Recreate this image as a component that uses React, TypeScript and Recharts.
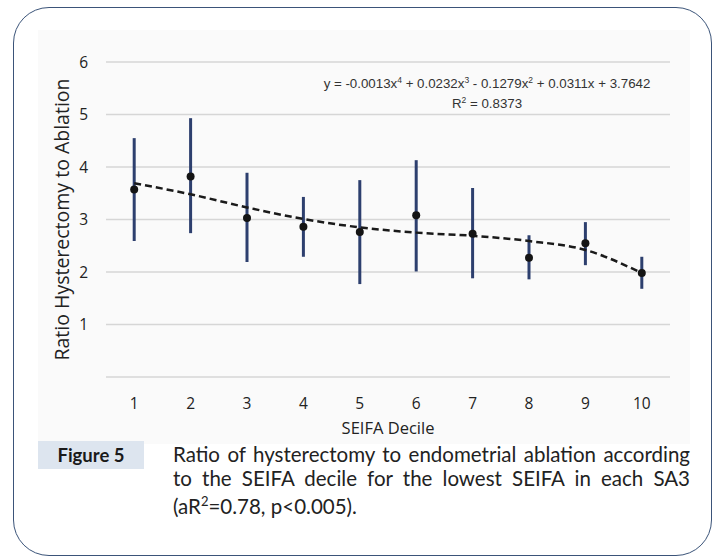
import React from 'react';
import { ComposedChart, Scatter, Line, XAxis, YAxis, CartesianGrid, ErrorBar } from 'recharts';

// SEIFA deciles on the x axis
const deciles = [1, 2, 3, 4, 5, 6, 7, 8, 9, 10];
// ratio hysterectomy : ablation
const ratioMean = [3.57, 3.82, 3.03, 2.86, 2.76, 3.08, 2.73, 2.27, 2.55, 1.98];
const ratioLower = [2.59, 2.74, 2.19, 2.29, 1.77, 2.01, 1.88, 1.86, 2.13, 1.68];
const ratioUpper = [4.55, 4.93, 3.89, 3.43, 3.75, 4.13, 3.6, 2.7, 2.95, 2.29];
// dashed polynomial trend line, as drawn
const trendValues = [3.69, 3.48, 3.23, 3.01, 2.85, 2.75, 2.69, 2.59, 2.42, 1.98];
const yTicks = [0, 1, 2, 3, 4, 5, 6];

const data = deciles.map((d, i) => ({
  decile: d,
  mean: ratioMean[i],
  err: [ratioMean[i] - ratioLower[i], ratioUpper[i] - ratioMean[i]],
  trend: trendValues[i],
}));

const chartFont = '"Open Sans", "DejaVu Sans", sans-serif';
const captionFont = 'Lato, "Open Sans", sans-serif';

const Dot = (props: any) => <circle cx={props.cx} cy={props.cy} r={4} fill="#141414" />;

export default function App() {
  return (
    <div style={{ position: 'absolute', left: 0, top: 0, width: 720, height: 560, background: '#fff', overflow: 'hidden' }}>
      <div
        style={{
          position: 'absolute',
          left: 13,
          top: 7,
          width: 699,
          height: 549,
          boxSizing: 'border-box',
          border: '1.5px solid #3b5479',
          borderRadius: 36,
        }}
      />
      <div style={{ position: 'absolute', left: 38, top: 30, width: 652, height: 414, background: '#fafafa' }} />

      <div style={{ position: 'absolute', left: 0, top: 0 }}>
        <ComposedChart width={720} height={450} data={data} margin={{ top: 62, right: 50, left: 18, bottom: 12 }}>
          <CartesianGrid vertical={false} stroke="#d6d6d6" strokeWidth={1.5} />
          <XAxis
            type="number"
            dataKey="decile"
            domain={[0.5, 10.5]}
            ticks={deciles}
            axisLine={false}
            tickLine={false}
            tickMargin={15}
            height={61}
            tick={{ fontSize: 15.5, fill: '#222', fontFamily: chartFont }}
            label={{ value: 'SEIFA Decile', position: 'insideBottom', offset: 4, fontSize: 16.5, fill: '#222', fontFamily: chartFont }}
          />
          <YAxis
            type="number"
            domain={[0, 6]}
            ticks={yTicks}
            axisLine={false}
            tickLine={false}
            width={88}
            tickMargin={12}
            tickFormatter={(v: number) => (v === 0 ? '' : String(v))}
            tick={{ fontSize: 15.5, fill: '#222', fontFamily: chartFont }}
            label={{
              value: 'Ratio Hysterectomy to Ablation',
              angle: -90,
              position: 'center',
              fontSize: 19.5,
              fill: '#222',
              fontFamily: chartFont,
            }}
          />
          <Scatter dataKey="mean" shape={<Dot />} isAnimationActive={false}>
            <ErrorBar dataKey="err" direction="y" width={0} stroke="#2d3f6e" strokeWidth={3} isAnimationActive={false} />
          </Scatter>
          <Line
            type="monotone"
            dataKey="trend"
            stroke="#1a1a1a"
            strokeWidth={2.5}
            strokeDasharray="7 4"
            dot={false}
            activeDot={false}
            isAnimationActive={false}
          />
        </ComposedChart>
      </div>

      <div
        style={{
          position: 'absolute',
          left: 287,
          top: 72,
          width: 400,
          textAlign: 'center',
          fontFamily: '"Liberation Sans", Arial, sans-serif',
          fontSize: 13.3,
          lineHeight: '16px',
          color: '#333',
        }}
      >
        <div>
          y = -0.0013x<sup style={{ fontSize: 8.5 }}>4</sup> + 0.0232x<sup style={{ fontSize: 8.5 }}>3</sup> - 0.1279x
          <sup style={{ fontSize: 8.5 }}>2</sup> + 0.0311x + 3.7642
        </div>
        <div>
          R<sup style={{ fontSize: 8.5 }}>2</sup> = 0.8373
        </div>
      </div>

      <div
        style={{
          position: 'absolute',
          left: 38,
          top: 441,
          width: 106,
          height: 28,
          background: '#dde5ef',
          fontFamily: captionFont,
          fontWeight: 700,
          fontSize: 18.5,
          lineHeight: '28px',
          textAlign: 'center',
          color: '#1a1a1a',
        }}
      >
        Figure 5
      </div>
      <div
        style={{
          position: 'absolute',
          left: 173,
          top: 443,
          width: 517,
          fontFamily: captionFont,
          fontSize: 20.5,
          lineHeight: '23.5px',
          color: '#222',
        }}
      >
        <div style={{ textAlign: 'justify', textAlignLast: 'justify' }}>Ratio of hysterectomy to endometrial ablation according</div>
        <div style={{ textAlign: 'justify', textAlignLast: 'justify' }}>to the SEIFA decile for the lowest SEIFA in each SA3</div>
        <div>
          (aR<sup style={{ fontSize: 13 }}>2</sup>=0.78, p&lt;0.005).
        </div>
      </div>
    </div>
  );
}
